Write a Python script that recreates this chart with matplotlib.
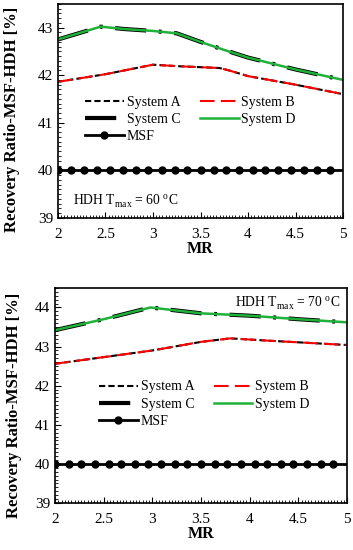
import matplotlib
matplotlib.use("Agg")
import matplotlib.pyplot as plt
from matplotlib.ticker import MultipleLocator

plt.rcParams['font.family'] = ['Liberation Serif', 'DejaVu Serif']
plt.rcParams['mathtext.fontset'] = 'custom'
plt.rcParams['mathtext.rm'] = 'Liberation Serif'

# Top panel (HDH Tmax = 60 C)
mr_ab_60 = [2.0, 2.5, 3.0, 3.25, 3.7, 3.8, 4.0, 4.5, 5.0]
sys_ab_60 = [41.86, 42.02, 42.22, 42.19, 42.15, 42.10, 41.98, 41.80, 41.60]
mr_cd_60 = [2.0, 2.2, 2.45, 2.7, 3.0, 3.25, 3.5, 3.75, 4.0, 4.5, 5.0]
sys_cd_60 = [42.75, 42.87, 43.02, 42.97, 42.93, 42.88, 42.70, 42.53, 42.37, 42.12, 41.90]

# Bottom panel (HDH Tmax = 70 C)
mr_ab_70 = [2.0, 2.5, 3.0, 3.5, 3.8, 4.2, 5.0]
sys_ab_70 = [42.56, 42.73, 42.90, 43.12, 43.21, 43.15, 43.04]
mr_cd_70 = [2.0, 2.5, 2.98, 3.5, 4.0, 4.5, 5.0]
sys_cd_70 = [43.42, 43.70, 44.00, 43.85, 43.79, 43.70, 43.62]

msf_x = [2.0, 2.14, 2.27, 2.41, 2.55, 2.68, 2.82, 2.95, 3.09, 3.23, 3.36,
         3.5, 3.64, 3.77, 3.91, 4.05, 4.18, 4.32, 4.45, 4.59, 4.73, 4.86]
msf_y = [40.0] * len(msf_x)
msf_line_x = [2.0, 5.0]
msf_line_y = [40.0, 40.0]

xticks = [2, 2.5, 3, 3.5, 4, 4.5, 5]
xticklabels = ['2', '2.5', '3', '3.5', '4', '4.5', '5']

fig = plt.figure(figsize=(3.53, 5.5), dpi=100)
ax1 = fig.add_axes([0.164, 0.604, 0.808, 0.389])
ax2 = fig.add_axes([0.156, 0.0855, 0.827, 0.391])

def draw(ax, mab, yab, mcd, ycd, ylim, yticks):
    ax.plot(mab, yab, color='black', lw=1.5, ls=(0, (3, 1.5)), label='System A')
    ax.plot(mab, yab, color='red', lw=1.5, ls=(0, (7, 3)), label='System B')
    ax.plot(mcd, ycd, color='black', lw=3, ls=(0, (7.5, 3, 0.7, 3)), label='System C')
    ax.plot(mcd, ycd, color='#1fb13a', lw=1.8, label='System D')
    ax.plot(msf_line_x, msf_line_y, color='black', lw=2)
    ax.plot(msf_x, msf_y, color='black', lw=0, marker='o', ms=5)
    ax.plot([], [], color='black', lw=2, marker='o', ms=5, label='MSF')
    ax.set_xlim(2, 5)
    ax.set_ylim(*ylim)
    ax.set_xticks(xticks)
    ax.set_xticklabels(xticklabels)
    ax.set_yticks(yticks)
    ax.xaxis.set_minor_locator(MultipleLocator(1 / 30))
    ax.yaxis.set_minor_locator(MultipleLocator(0.1))
    ax.tick_params(which='both', direction='in', top=False, right=False, labelsize=11)
    ax.tick_params(which='major', length=4, width=0.8)
    ax.tick_params(which='minor', length=2.5, width=0.6)
    ax.tick_params(axis='x', pad=7)
    for s in ax.spines.values():
        s.set_linewidth(1.2)
    ax.set_xlabel('MR', fontsize=11.5, fontweight='bold', labelpad=0)
    ax.set_ylabel('Recovery Ratio-MSF-HDH [%]', fontsize=12, fontweight='bold')
    h, l = ax.get_legend_handles_labels()
    order = ['System A', 'System C', 'MSF', 'System B', 'System D']
    hh = [h[l.index(o)] for o in order]
    return hh, order

leg_kw = dict(ncol=2, frameon=False, fontsize=10, loc='upper left',
              handlelength=2.8, labelspacing=0.3, columnspacing=1.4,
              handletextpad=0.2, borderaxespad=0, borderpad=0)

hh, ll = draw(ax1, mr_ab_60, sys_ab_60, mr_cd_60, sys_cd_60, (39, 43.5), [39, 40, 41, 42, 43])
ax1.yaxis.set_label_coords(-0.133, 0.458)
ax1.legend(hh, ll, bbox_to_anchor=(0.095, 0.57), **leg_kw)
ax1.text(0.053, 0.078, 'HDH T$_{\\mathrm{max}}$ = 60 $^{\\mathrm{o}}$C', transform=ax1.transAxes,
         fontsize=9.8, ha='left', va='center')

hh, ll = draw(ax2, mr_ab_70, sys_ab_70, mr_cd_70, sys_cd_70, (39, 44.5), [39, 40, 41, 42, 43, 44])
ax2.yaxis.set_label_coords(-0.113, 0.456)
ax2.legend(hh, ll, bbox_to_anchor=(0.15, 0.57), **leg_kw)
ax2.text(0.976, 0.93, 'HDH T$_{\\mathrm{max}}$ = 70 $^{\\mathrm{o}}$C', transform=ax2.transAxes,
         fontsize=9.8, ha='right', va='center')

fig.savefig('out.png', dpi=100)
